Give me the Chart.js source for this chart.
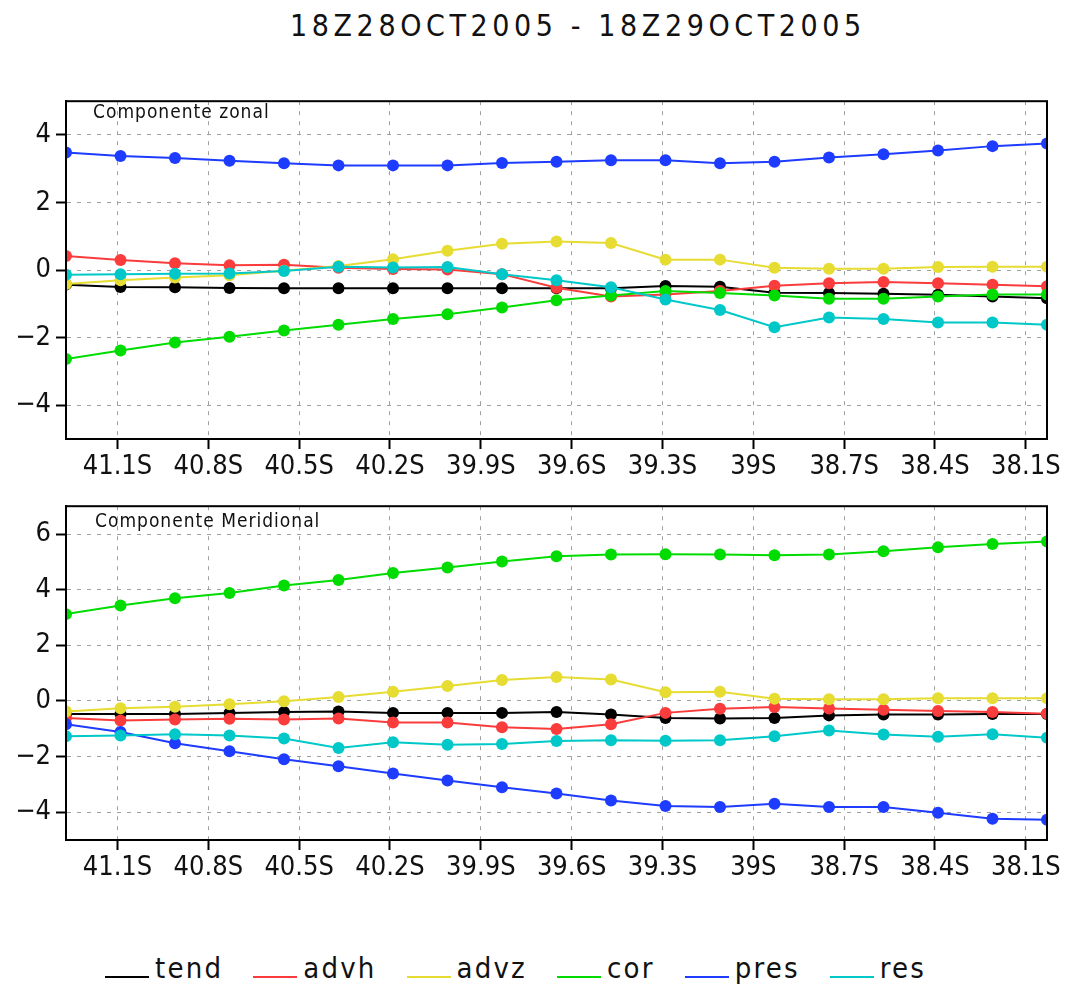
<!DOCTYPE html>
<html>
<head>
<meta charset="utf-8">
<script src="https://cdn.jsdelivr.net/npm/chart.js@4"></script>
<style>
  body { margin: 0; background: #fff; width: 1068px; height: 989px; position: relative; overflow: hidden;
         font-family: 'DejaVu Sans Condensed', 'DejaVu Sans', sans-serif; color: #111; }
  #title { position: absolute; top: 8px; left: 290px; font-size: 30px; letter-spacing: 4.6px; white-space: nowrap; }
  .panel { position: absolute; left: 0; }
  .tag { position: absolute; font-size: 19px; letter-spacing: 1px; }
  #legend { position: absolute; left: 105px; top: 951px; display: flex; gap: 30px; font-size: 29px; letter-spacing: 2.2px; }
  #legend .item { display: flex; align-items: flex-end; }
  #legend .swatch { width: 44px; height: 0; border-top: 2px solid; margin: 0 6px 7px 0; }
</style>
</head>
<body>
<div id="title">18Z28OCT2005 - 18Z29OCT2005</div>
<canvas id="zonal" class="panel" style="top:80px" width="1068" height="400"></canvas>
<canvas id="merid" class="panel" style="top:485px" width="1068" height="396"></canvas>
<div class="tag" style="left:93px;top:100px">Componente zonal</div>
<div class="tag" style="left:95px;top:509px">Componente Meridional</div>
<div id="legend"></div>
<script>
// latitude of each grid point (negative = south)
const lats = [-41.27, -41.09, -40.91, -40.73, -40.55, -40.37, -40.19, -40.01, -39.83, -39.65,
              -39.47, -39.29, -39.11, -38.93, -38.75, -38.57, -38.39, -38.21, -38.03];
const latTicks = [-41.1, -40.8, -40.5, -40.2, -39.9, -39.6, -39.3, -39.0, -38.7, -38.4, -38.1];

const names  = ['tend', 'advh', 'advz', 'cor', 'pres', 'res'];
const colors = ['#000000', '#fa3c3c', '#e6dc32', '#00dc00', '#1e3cff', '#00c8c8'];

// zonal momentum budget terms
const tendU = [-0.43, -0.50, -0.51, -0.53, -0.54, -0.54, -0.54, -0.54, -0.54, -0.54, -0.54, -0.47, -0.49, -0.67, -0.68, -0.70, -0.73, -0.78, -0.83];
const advhU = [0.42, 0.30, 0.20, 0.14, 0.16, 0.07, 0.03, 0.02, -0.12, -0.52, -0.78, -0.72, -0.62, -0.46, -0.39, -0.35, -0.39, -0.43, -0.48];
const advzU = [-0.41, -0.30, -0.22, -0.15, -0.02, 0.12, 0.32, 0.57, 0.78, 0.85, 0.80, 0.31, 0.31, 0.07, 0.04, 0.04, 0.09, 0.10, 0.10];
const corU  = [-2.63, -2.38, -2.14, -1.97, -1.79, -1.62, -1.45, -1.31, -1.11, -0.89, -0.75, -0.62, -0.68, -0.75, -0.85, -0.85, -0.78, -0.72, -0.72];
const presU = [3.48, 3.38, 3.32, 3.24, 3.16, 3.10, 3.10, 3.10, 3.17, 3.21, 3.25, 3.25, 3.16, 3.21, 3.33, 3.43, 3.54, 3.67, 3.75];
const resU  = [-0.14, -0.12, -0.11, -0.10, -0.03, 0.10, 0.08, 0.09, -0.12, -0.30, -0.51, -0.87, -1.18, -1.69, -1.40, -1.45, -1.55, -1.55, -1.62];

// meridional momentum budget terms
const tendV = [-0.47, -0.47, -0.47, -0.43, -0.40, -0.38, -0.43, -0.43, -0.43, -0.40, -0.49, -0.61, -0.63, -0.61, -0.52, -0.49, -0.49, -0.47, -0.47];
const advhV = [-0.61, -0.70, -0.67, -0.64, -0.67, -0.63, -0.78, -0.78, -0.95, -1.01, -0.84, -0.43, -0.28, -0.22, -0.27, -0.32, -0.36, -0.40, -0.46];
const advzV = [-0.38, -0.26, -0.21, -0.12, -0.01, 0.14, 0.33, 0.54, 0.75, 0.86, 0.77, 0.31, 0.33, 0.08, 0.06, 0.06, 0.10, 0.10, 0.10];
const corV  = [3.12, 3.43, 3.69, 3.88, 4.15, 4.35, 4.60, 4.80, 5.01, 5.20, 5.26, 5.27, 5.26, 5.24, 5.26, 5.38, 5.52, 5.64, 5.73];
const presV = [-0.84, -1.12, -1.52, -1.81, -2.10, -2.35, -2.61, -2.86, -3.10, -3.33, -3.58, -3.78, -3.81, -3.70, -3.81, -3.81, -4.02, -4.24, -4.27];
const resV  = [-1.27, -1.24, -1.20, -1.24, -1.35, -1.69, -1.49, -1.58, -1.55, -1.44, -1.41, -1.43, -1.41, -1.27, -1.06, -1.21, -1.29, -1.20, -1.32];

const zonalTicks = [-4, -2, 0, 2, 4];
const meridTicks = [-4, -2, 0, 2, 4, 6];

const tickFont = { family: "'DejaVu Sans Condensed', 'DejaVu Sans', sans-serif", size: 27 };

function latLabel(v) {
  return (Math.round(Math.abs(v) * 10) / 10) + 'S';
}

// black box around the plotting area
const frame = {
  id: 'frame',
  afterDraw(chart) {
    const { ctx, chartArea: a } = chart;
    ctx.save();
    ctx.strokeStyle = '#000';
    ctx.lineWidth = 2;
    ctx.setLineDash([]);
    ctx.strokeRect(a.left, a.top, a.right - a.left, a.bottom - a.top);
    ctx.restore();
  }
};

const gridOpts = { color: '#a0a0a0', lineWidth: 1, tickLength: 10, tickColor: '#000', tickWidth: 2, tickBorderDash: [0, 0] };
const borderOpts = { color: '#000', width: 2, dash: [4, 6] };

function makePanel(id, series, yMin, yMax, yTicks, padTop) {
  const datasets = series.map((vals, i) => ({
    label: names[i],
    data: vals.map((v, j) => ({ x: lats[j], y: v })),
    borderColor: colors[i],
    backgroundColor: colors[i],
    borderWidth: 2,
    pointRadius: 6,
    pointBorderWidth: 0,
    pointHoverRadius: 6,
    order: names.length - i,
    clip: 0
  }));
  return new Chart(document.getElementById(id), {
    type: 'line',
    data: { datasets },
    plugins: [frame],
    options: {
      responsive: false,
      animation: false,
      layout: { padding: { top: padTop, right: 21, left: 0, bottom: 0 } },
      plugins: { legend: { display: false }, tooltip: { enabled: false } },
      scales: {
        x: {
          type: 'linear', min: lats[0], max: lats[lats.length - 1],
          afterBuildTicks: s => { s.ticks = latTicks.map(v => ({ value: v })); },
          afterFit: s => { s.height = 41; },
          ticks: { callback: latLabel, font: tickFont, color: '#111', padding: 2, maxRotation: 0, autoSkip: false },
          grid: gridOpts,
          border: borderOpts
        },
        y: {
          min: yMin, max: yMax,
          afterBuildTicks: s => { s.ticks = yTicks.map(v => ({ value: v })); },
          afterFit: s => { s.width = 66; },
          ticks: { callback: v => (v < 0 ? '\u2212' + Math.abs(v) : String(v)), font: tickFont, color: '#111', padding: 5 },
          grid: gridOpts,
          border: borderOpts
        }
      }
    }
  });
}

makePanel('zonal', [tendU, advhU, advzU, corU, presU, resU], -5, 5, zonalTicks, 12);
makePanel('merid', [tendV, advhV, advzV, corV, presV, resV], -5, 7, meridTicks, 9);

// legend row under both panels
const legend = document.getElementById('legend');
names.forEach((n, i) => {
  const item = document.createElement('div');
  item.className = 'item';
  item.innerHTML = `<span class="swatch" style="border-color:${colors[i]}"></span><span>${n}</span>`;
  legend.appendChild(item);
});
</script>
</body>
</html>
